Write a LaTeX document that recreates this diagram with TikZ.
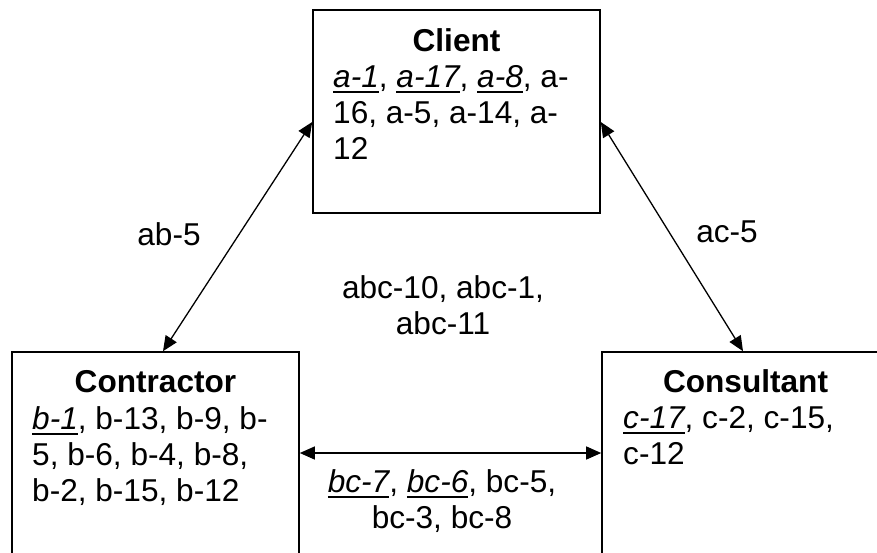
\documentclass[tikz,border=0pt]{standalone}
\usepackage{fontspec}
\setmainfont{Liberation Sans}
\usetikzlibrary{arrows.meta}
\newcommand\ulit[1]{\setbox0=\hbox{\itshape #1}\rlap{\rule[-6pt]{\wd0}{2pt}}\box0}
\newcommand\leftlines[1]{\vtop{\baselineskip=36pt\lineskiplimit=-100pt\lineskip=0pt\halign{##\hfil\cr#1\crcr}}}
\newcommand\midlines[1]{\vtop{\baselineskip=36pt\lineskiplimit=-100pt\lineskip=0pt\halign{\hfil##\hfil\cr#1\crcr}}}
\begin{document}
\begin{tikzpicture}[x=1pt,y=1pt,
  box/.style={draw, line width=1.6pt, rectangle, minimum width=287pt, inner sep=0pt, anchor=center},
  lbl/.style={inner sep=0pt, font=\fontsize{31.6}{36}\selectfont},
  title/.style={inner sep=0pt, anchor=base, font=\fontsize{31.6}{36}\selectfont\bfseries},
  conn/.style={line width=1.3pt, {Triangle[length=15pt,width=13pt]}-{Triangle[length=15pt,width=13pt]}}]
\path[use as bounding box] (0,0) rectangle (877,-552);
\clip (0,0) rectangle (877,-552);
% boxes
\node[box, minimum height=203pt] (client) at (456.5,-111.5) {};
\node[box, minimum height=202pt] (contractor) at (155.5,-453) {};
\node[box, minimum height=202pt] (consultant) at (745.5,-453) {};
% box texts
\node[title] (clienttitle) at (456.5,-51) {Client};
\node[lbl, anchor=base west] (clientbody) at (333,-87)
  {\leftlines{\ulit{a-1}, \ulit{a-17}, \ulit{a-8}, a-\cr 16, a-5, a-14, a-\cr 12}};
\node[title] (contractortitle) at (155.5,-392) {Contractor};
\node[lbl, anchor=base west] (contractorbody) at (32,-429)
  {\leftlines{\ulit{b-1}, b-13, b-9, b-\cr 5, b-6, b-4, b-8,\cr b-2, b-15, b-12}};
\node[title] (consultanttitle) at (745.5,-392) {Consultant};
\node[lbl, anchor=base west] (consultantbody) at (623,-428)
  {\leftlines{\ulit{c-17}, c-2, c-15,\cr c-12}};
% connectors
\draw[conn] ([yshift=-10.5pt]client.west) -- ([xshift=7.5pt]contractor.north);
\draw[conn] ([yshift=-10.5pt]client.east) -- ([xshift=-2.5pt]consultant.north);
\draw[conn] (contractor.east) -- (consultant.west);
% labels
\node[lbl, anchor=base] (ablabel) at (169,-245) {ab-5};
\node[lbl, anchor=base] (aclabel) at (727,-242) {ac-5};
\node[lbl, anchor=base] (abclabel) at (443,-298) {\midlines{abc-10, abc-1,\cr abc-11}};
\node[lbl, anchor=base] (bclabel) at (442,-492) {\midlines{\ulit{bc-7}, \ulit{bc-6}, bc-5,\cr bc-3, bc-8}};
\end{tikzpicture}
\end{document}
